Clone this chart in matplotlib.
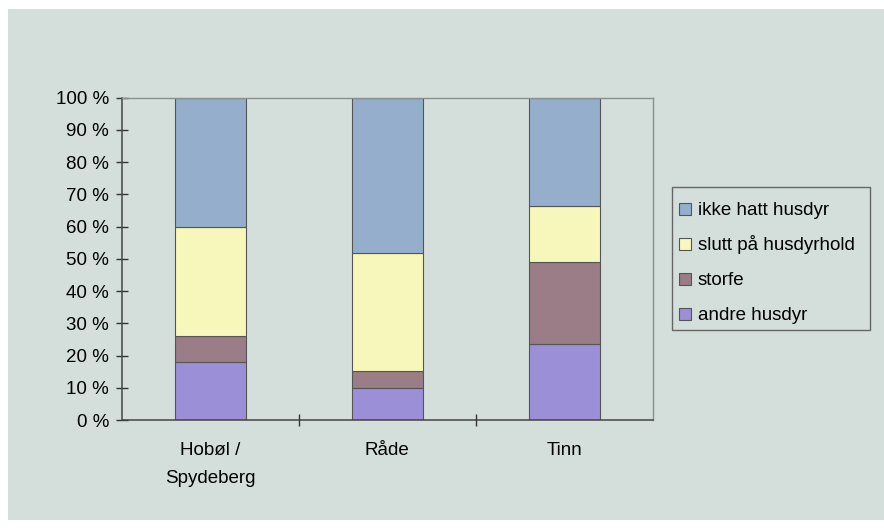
import matplotlib.pyplot as plt
import matplotlib.patches as mpatches
import numpy as np

# Data (percent shares)
categories = ["Hobøl /\nSpydeberg", "Råde", "Tinn"]
andre = [18.0, 10.0, 23.5]
storfe = [8.0, 5.3, 25.6]
slutt = [34.0, 36.4, 17.3]
ikke = [40.0, 48.3, 33.6]

series_names = ["andre husdyr", "storfe", "slutt på husdyrhold", "ikke hatt husdyr"]
series_colors = ["#9b90d8", "#9a7d86", "#f8f7bb", "#94aecb"]
y_ticks = np.arange(0, 101, 10)
y_labels = [f"{v} %" for v in y_ticks]

plt.rcParams['font.family'] = ['Liberation Sans', 'DejaVu Sans']
FS = 13.5

W, H = 884, 532
bg = "#d4dfdc"
fig = plt.figure(figsize=(W / 100, H / 100), dpi=100, facecolor="white")
# chart area background (scanned page has a white margin)
fig.patches.append(mpatches.Rectangle((8 / W, 1 - 520 / H), 1, (520 - 9) / H,
                                      transform=fig.transFigure, facecolor=bg,
                                      edgecolor="none", zorder=-5))

ax = fig.add_axes([0.1377, 0.2105, 0.6006, 0.6062])
ax.set_facecolor(bg)

x = np.arange(len(categories))
bottom = np.zeros(len(categories))
for vals, name, col in zip([andre, storfe, slutt, ikke], series_names, series_colors):
    ax.bar(x, vals, bottom=bottom, width=0.4, color=col, edgecolor="#555555",
           linewidth=0.8, label=name, zorder=2)
    bottom += np.array(vals)

ax.set_xlim(-0.5, 2.5)
ax.set_ylim(0, 100)

# y axis
ax.set_yticks(y_ticks)
ax.set_yticklabels(y_labels, fontsize=FS)
ax.tick_params(axis="y", direction="inout", length=8, width=1, pad=5, color="#333333")

# x axis: ticks at category boundaries, labels at centres
ax.set_xticks([0.5, 1.5])
ax.set_xticklabels([])
ax.set_xticks(x, minor=True)
ax.set_xticklabels(categories, minor=True, fontsize=FS, linespacing=1.85)
ax.tick_params(axis="x", which="major", direction="inout", length=8, width=1, color="#333333")
ax.tick_params(axis="x", which="minor", length=0, pad=16)

for side in ["left", "bottom"]:
    ax.spines[side].set_color("#444444")
    ax.spines[side].set_linewidth(1.1)
for side in ["top", "right"]:
    ax.spines[side].set_color("#8a8f8f")
    ax.spines[side].set_linewidth(1.0)

# legend drawn by hand so the rows are evenly spaced (top entry = top of stack)
box_l, box_t, box_r, box_b = 672, 187, 870, 330
fig.patches.append(mpatches.Rectangle((box_l / W, 1 - box_b / H), (box_r - box_l) / W,
                                      (box_b - box_t) / H, transform=fig.transFigure,
                                      facecolor=bg, edgecolor="#666666", linewidth=1.0))
base_y = box_t + 28
for name, col in zip(series_names[::-1], series_colors[::-1]):
    fig.patches.append(mpatches.Rectangle((679 / W, 1 - base_y / H), 12 / W, 12 / H,
                                          transform=fig.transFigure, facecolor=col,
                                          edgecolor="#555555", linewidth=0.8))
    fig.text(698 / W, 1 - base_y / H, name, fontsize=FS, va="baseline", ha="left")
    base_y += 35

fig.savefig("out.png", dpi=100, facecolor="white")
